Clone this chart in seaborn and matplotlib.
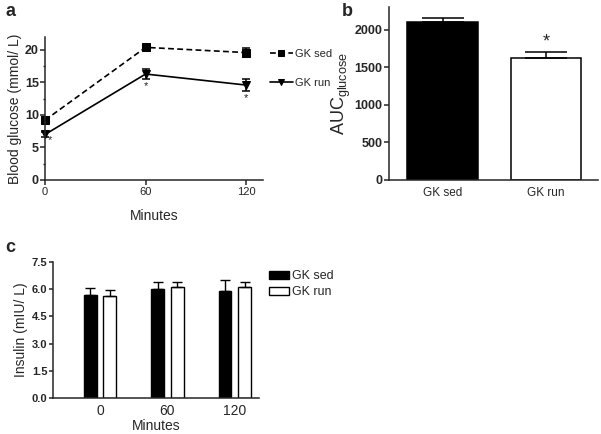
import numpy as np
import pandas as pd
import seaborn as sns
import matplotlib.pyplot as plt
from matplotlib.ticker import MultipleLocator

sns.set_style('ticks')
plt.rcParams['font.family'] = ['Liberation Sans', 'DejaVu Sans']
plt.rcParams['mathtext.fontset'] = 'custom'
plt.rcParams['mathtext.rm'] = 'Liberation Sans'
plt.rcParams['axes.linewidth'] = 1.1
plt.rcParams['xtick.major.width'] = 1.1
plt.rcParams['ytick.major.width'] = 1.1
plt.rcParams['ytick.minor.width'] = 1.0

# data
groups = ['GK sed', 'GK run']
minutes = [0, 60, 120]
glucose_sed = [9.2, 20.4, 19.6]
glucose_sed_err = [0.5, 0.4, 0.7]
glucose_run = [7.0, 16.3, 14.6]
glucose_run_err = [0.4, 0.8, 0.9]
star_a_minutes = [0, 60, 120]
star_a_y = [6.2, 14.4, 12.6]

auc = [2105, 1620]
auc_err = [45, 75]

insulin_sed = [5.70, 6.00, 5.92]
insulin_sed_err = [0.35, 0.42, 0.60]
insulin_run = [5.64, 6.10, 6.13]
insulin_run_err = [0.33, 0.28, 0.27]

fig = plt.figure(figsize=(6.01, 4.34), dpi=100)
ax_a = fig.add_axes([0.0749, 0.5853, 0.3627, 0.3295])
ax_b = fig.add_axes([0.647, 0.5853, 0.348, 0.3986])
ax_c = fig.add_axes([0.0882, 0.0829, 0.3428, 0.3134])

# ---- panel a
df_a = pd.DataFrame({
    'minutes': minutes * 2,
    'glucose': glucose_sed + glucose_run,
    'err': glucose_sed_err + glucose_run_err,
    'group': ['GK sed'] * 3 + ['GK run'] * 3,
})
sns.lineplot(data=df_a, x='minutes', y='glucose', style='group', style_order=groups,
             markers={'GK sed': 's', 'GK run': 'v'},
             dashes={'GK sed': (3.5, 2), 'GK run': ''},
             color='black', linewidth=1.2, markersize=5.5, markeredgecolor='black',
             ax=ax_a, clip_on=False)
for g in groups:
    d = df_a[df_a['group'] == g]
    ax_a.errorbar(d['minutes'], d['glucose'], yerr=d['err'], fmt='none',
                  ecolor='black', elinewidth=1.1, capsize=3, capthick=1.1, clip_on=False)
for x, y in zip(star_a_minutes, star_a_y):
    ax_a.text(x + (3 if x == 0 else 0), y, '*', ha='center', va='center', fontsize=8)
ax_a.set_xlim(0, 130)
ax_a.set_ylim(0, 22)
ax_a.set_xticks(minutes)
ax_a.yaxis.set_major_locator(MultipleLocator(5))
ax_a.yaxis.set_minor_locator(MultipleLocator(2.5))
ax_a.tick_params(axis='y', labelsize=9, length=3.5, pad=1)
ax_a.tick_params(axis='y', which='minor', length=1.5)
ax_a.tick_params(axis='x', labelsize=8, length=3.5, pad=1.5)
for t in ax_a.get_yticklabels():
    t.set_fontweight('bold')
ax_a.set_xlabel('Minutes', fontsize=10, labelpad=9)
ax_a.set_ylabel('Blood glucose (mmol/ L)', fontsize=10, labelpad=2)
h, l = ax_a.get_legend_handles_labels()
ax_a.legend(h, l, loc='upper left', bbox_to_anchor=(264 / 601, 1 - 43 / 434),
            bbox_transform=fig.transFigure, frameon=False, fontsize=8,
            handlelength=2.1, handletextpad=0.2, labelspacing=1.75, borderpad=0,
            markerscale=0.75)
sns.despine(ax=ax_a)

# ---- panel b
df_b = pd.DataFrame({'group': groups, 'auc': auc, 'err': auc_err})
sns.barplot(data=df_b, x='group', y='auc', hue='group', order=groups,
            palette={'GK sed': 'black', 'GK run': 'white'}, edgecolor='black',
            linewidth=1.1, width=0.68, legend=False, ax=ax_b)
for bar, e in zip(ax_b.patches, df_b['err']):
    cx = bar.get_x() + bar.get_width() / 2
    ax_b.errorbar(cx, bar.get_height(), yerr=[[0], [e]], fmt='none', ecolor='black',
                  elinewidth=1.1, capsize=15, capthick=1.1)
ax_b.text(1, 1830, '*', ha='center', va='center', fontsize=13)
ax_b.set_xlim(-0.52, 1.5)
ax_b.set_ylim(0, 2300)
ax_b.yaxis.set_major_locator(MultipleLocator(500))
ax_b.tick_params(axis='y', labelsize=9, length=3.5, pad=1)
ax_b.tick_params(axis='x', labelsize=8.5, length=0, pad=5)
for t in ax_b.get_yticklabels():
    t.set_fontweight('bold')
ax_b.set_xlabel('')
ax_b.set_ylabel(r'AUC$_{\mathrm{glucose}}$', fontsize=13, labelpad=1)
sns.despine(ax=ax_b)

# ---- panel c
df_c = pd.DataFrame({
    'minutes': [str(m) for m in minutes] * 2,
    'insulin': insulin_sed + insulin_run,
    'err': insulin_sed_err + insulin_run_err,
    'group': ['GK sed'] * 3 + ['GK run'] * 3,
})
sns.barplot(data=df_c, x='minutes', y='insulin', hue='group', hue_order=groups,
            palette={'GK sed': 'black', 'GK run': 'white'}, edgecolor='black',
            linewidth=1.0, width=0.58, gap=0.34, ax=ax_c)
for cont, g in zip(ax_c.containers, groups):
    d = df_c[df_c['group'] == g]
    for bar, e in zip(cont, d['err']):
        cx = bar.get_x() + bar.get_width() / 2
        ax_c.errorbar(cx, bar.get_height(), yerr=[[0], [e]], fmt='none', ecolor='black',
                      elinewidth=1.0, capsize=3.5, capthick=1.0)
ax_c.set_xlim(-0.70, 2.36)
ax_c.set_ylim(0, 7.5)
ax_c.set_yticks([0, 1.5, 3.0, 4.5, 6.0, 7.5])
ax_c.yaxis.set_major_formatter(plt.FormatStrFormatter('%.1f'))
ax_c.tick_params(axis='y', labelsize=8, length=3, pad=1)
ax_c.tick_params(axis='x', labelsize=10, length=0, pad=4)
for t in ax_c.get_yticklabels():
    t.set_fontweight('bold')
ax_c.set_xlabel('Minutes', fontsize=10, labelpad=1)
ax_c.set_ylabel('Insulin (mIU/ L)', fontsize=10, labelpad=3)
ax_c.legend(loc='upper left', bbox_to_anchor=(263 / 601, 1 - 264 / 434),
            bbox_transform=fig.transFigure, frameon=False, fontsize=9,
            handlelength=1.6, handleheight=0.6, handletextpad=0.2,
            labelspacing=0.3, borderpad=0)
sns.despine(ax=ax_c)

# panel letters
fig.text(5 / 601, 1 - 12 / 434, 'a', fontsize=13, fontweight='bold', va='center')
fig.text(342 / 601, 1 - 12 / 434, 'b', fontsize=13, fontweight='bold', va='center')
fig.text(5 / 601, 1 - 248 / 434, 'c', fontsize=13, fontweight='bold', va='center')

fig.savefig('out.png', dpi=100)
